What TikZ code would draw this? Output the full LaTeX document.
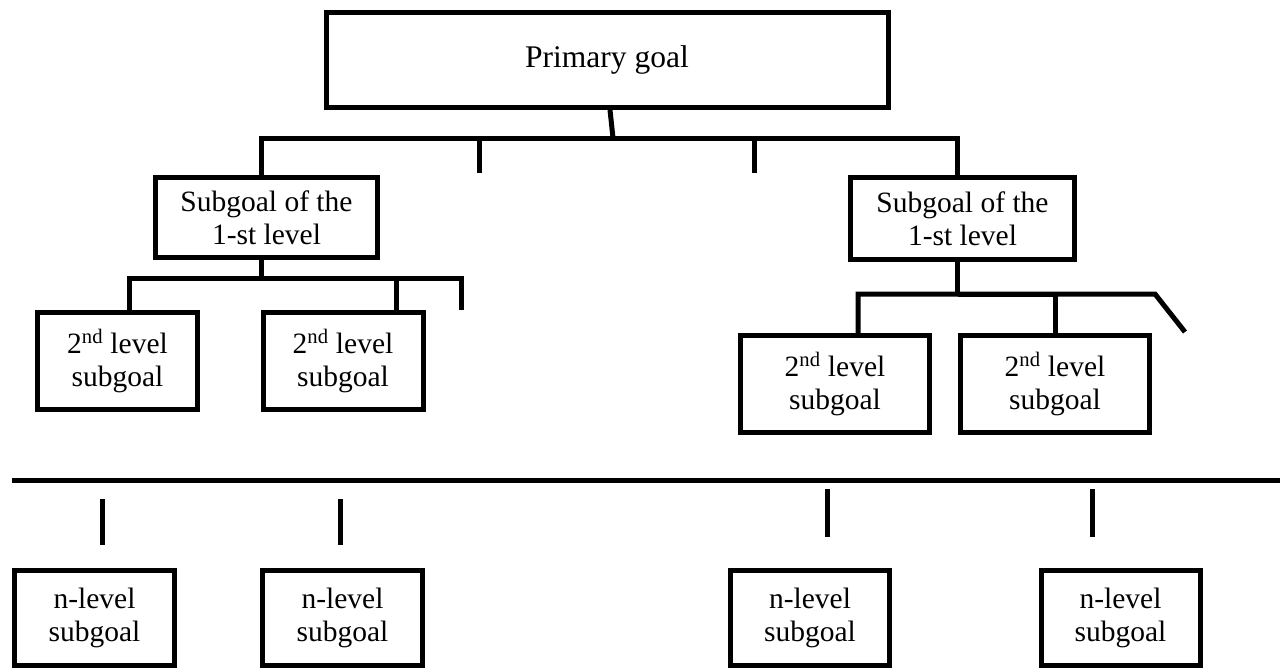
\documentclass[tikz,border=0pt]{standalone}
\usepackage{fontspec}
\setmainfont{Liberation Serif}
\usepackage{tikz}
\tikzset{
    block/.style = {draw,
                    rectangle,
                    line width=5pt,
                    inner sep=0pt,
                    align=center,
                    font=\fontsize{29.5}{33}\selectfont
    },
    link/.style = {line width=5pt}
}

\begin{document}
\begin{tikzpicture}[x=1pt,y=-1pt]
    \useasboundingbox (0,0) rectangle (1282,670);

    \node [block,minimum width=562,minimum height=95,
           font=\fontsize{31.5}{36}\selectfont]           at (607,60)      (primary) {Primary goal};
    \node [block,minimum width=222,minimum height=80]     at (266.5,217.5) (subL)    {Subgoal of the\\1-st level};
    \node [block,minimum width=224,minimum height=82]     at (962.5,218.5) (subR)    {Subgoal of the\\1-st level};

    \node [block,minimum width=160,minimum height=97]     at (117.5,361)   (secA)    {2\textsuperscript{nd} level\\subgoal};
    \node [block,minimum width=160,minimum height=97]     at (343,361)     (secB)    {2\textsuperscript{nd} level\\subgoal};
    \node [block,minimum width=189,minimum height=97]     at (835,384)     (secC)    {2\textsuperscript{nd} level\\subgoal};
    \node [block,minimum width=189,minimum height=97]     at (1055,384)    (secD)    {2\textsuperscript{nd} level\\subgoal};

    \node [block,minimum width=160,minimum height=95]     at (94.5,618)    (lvnA)    {n-level\\subgoal};
    \node [block,minimum width=160,minimum height=95]     at (342.5,618)   (lvnB)    {n-level\\subgoal};
    \node [block,minimum width=159,minimum height=95]     at (810,618)     (lvnC)    {n-level\\subgoal};
    \node [block,minimum width=159,minimum height=95]     at (1120.5,618)  (lvnD)    {n-level\\subgoal};

    % forks and loose ends
    \coordinate (fork0)  at (613,138);
    \coordinate (tick0a) at (479,173);
    \coordinate (tick0b) at (754,173);
    \coordinate (fork1)  at (261.5,278);
    \coordinate (tick1)  at (461,310);
    \coordinate (fork2)  at (957.5,294);
    \coordinate (bend2)  at (1155,294);
    \coordinate (tick2)  at (1185,332);

    % first level
    \draw [link] ([xshift=3]primary.south) -- (fork0);
    \draw [link] ([xshift=-5]subL.north) |- (fork0) -| ([xshift=-5]subR.north);
    \draw [link] (tick0a) -- (tick0a |- fork0);
    \draw [link] (tick0b) -- (tick0b |- fork0);

    % second level, left
    \draw [link] ([xshift=-5]subL.south) -- (fork1);
    \draw [link] ([xshift=12]secA.north) |- (tick1 |- fork1) -- (tick1);
    \draw [link] ([xshift=53]secB.north) |- (fork1);

    % second level, right
    \draw [link] ([xshift=-5]subR.south) -- (fork2);
    \draw [link] ([xshift=23]secC.north) |- (bend2) -- (tick2);
    \draw [link] (secD.north) |- (fork2);

    % n-th level
    \draw [link] (12,480) -- (1280,480);
    \draw [link] (102,499) -- (102,545);
    \draw [link] (340,499) -- (340,545);
    \draw [link] (827,489) -- (827,537);
    \draw [link] (1092,489) -- (1092,537);
\end{tikzpicture}
\end{document}
